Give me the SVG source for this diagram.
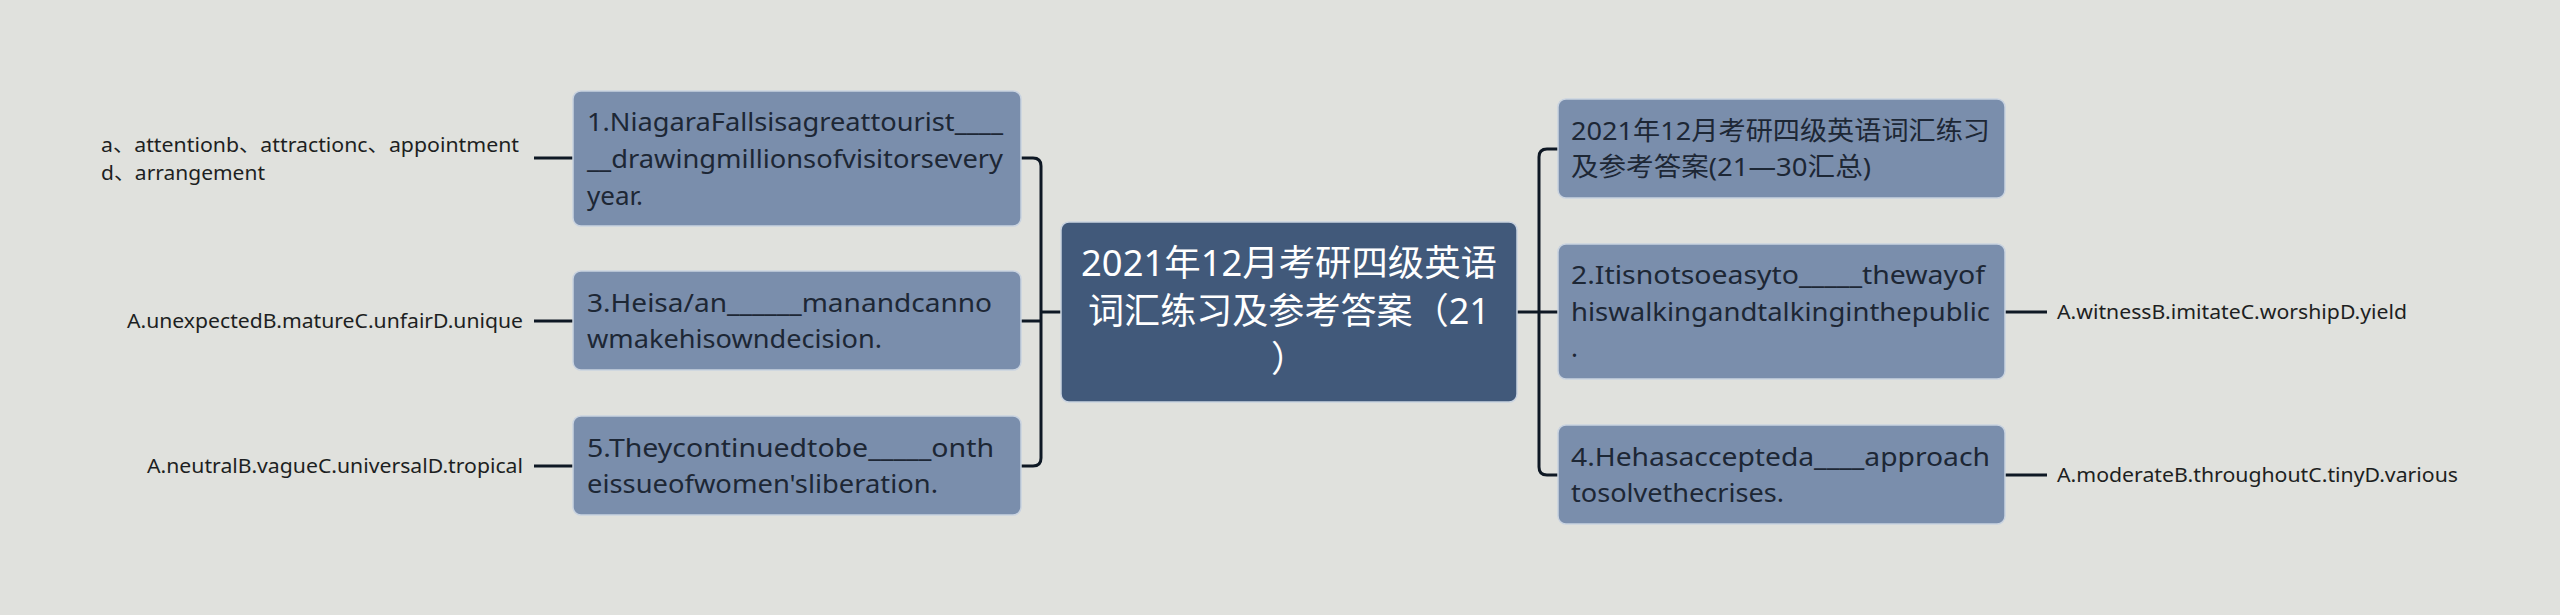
<svg xmlns="http://www.w3.org/2000/svg" width="2560" height="615" viewBox="0 0 2560 615">
<style>
.bg{fill:#e0e1dd}
.node rect{fill:#7a8eac;stroke:#c9d3e0;stroke-width:1.5}
.root rect{fill:#41597a;stroke:#c9d3e0;stroke-width:1.5}
.nt{font-family:"Noto Sans","Noto Sans CJK SC",sans-serif;font-size:26px;fill:#1d2735}
.rt{font-family:"Noto Sans","Noto Sans CJK SC",sans-serif;font-size:36px;fill:#ffffff;text-anchor:middle}
.lt{font-family:"Noto Sans","Noto Sans CJK SC",sans-serif;font-size:20px;fill:#1d1f22}
.lr{text-anchor:end}
.conn path{fill:none;stroke:#0e1824;stroke-width:3}
</style>
<rect class="bg" x="0" y="0" width="2560" height="615"/>
<g class="conn" id="connectors">
<path d="M1061 312 H1041"/>
<path d="M1021 158 H1033 Q1041 158 1041 166 V458 Q1041 466 1033 466 H1021"/>
<path d="M1021 321 H1041"/>
<path d="M1517 312 H1558"/>
<path d="M1558 149 H1547 Q1539 149 1539 157 V467 Q1539 475 1547 475 H1558"/>
<path d="M573 158 H534"/>
<path d="M573 321 H534"/>
<path d="M573 466 H534"/>
<path d="M2005 312 H2047"/>
<path d="M2005 475 H2047"/>
</g>
<g id="root" class="root">
<rect x="1061" y="222" width="456" height="180" rx="8"/>
<text class="rt" x="1289" y="276" textLength="416" lengthAdjust="spacingAndGlyphs">2021年12月考研四级英语</text>
<text class="rt" x="1289" y="324" textLength="402" lengthAdjust="spacingAndGlyphs">词汇练习及参考答案（21</text>
<text class="rt" x="1289" y="372">）</text>
</g>
<g id="n1" class="node">
<rect x="573" y="91" width="448" height="135" rx="8"/>
<text class="nt" x="587" y="131" textLength="416" lengthAdjust="spacingAndGlyphs">1.NiagaraFallsisagreattourist____</text>
<text class="nt" x="587" y="168" textLength="416" lengthAdjust="spacingAndGlyphs">__drawingmillionsofvisitorsevery</text>
<text class="nt" x="587" y="205">year.</text>
</g>
<g id="n3" class="node">
<rect x="573" y="271" width="448" height="99" rx="8"/>
<text class="nt" x="587" y="312" textLength="405" lengthAdjust="spacingAndGlyphs">3.Heisa/an______manandcanno</text>
<text class="nt" x="587" y="348" textLength="295" lengthAdjust="spacingAndGlyphs">wmakehisowndecision.</text>
</g>
<g id="n5" class="node">
<rect x="573" y="416" width="448" height="99" rx="8"/>
<text class="nt" x="587" y="457" textLength="407" lengthAdjust="spacingAndGlyphs">5.Theycontinuedtobe_____onth</text>
<text class="nt" x="587" y="493" textLength="351" lengthAdjust="spacingAndGlyphs">eissueofwomen'sliberation.</text>
</g>
<g id="n0" class="node">
<rect x="1558" y="99" width="447" height="99" rx="8"/>
<text class="nt" x="1571" y="140" textLength="419" lengthAdjust="spacingAndGlyphs">2021年12月考研四级英语词汇练习</text>
<text class="nt" x="1571" y="176" textLength="300" lengthAdjust="spacingAndGlyphs">及参考答案(21—30汇总)</text>
</g>
<g id="n2" class="node">
<rect x="1558" y="244" width="447" height="135" rx="8"/>
<text class="nt" x="1571" y="284" textLength="414" lengthAdjust="spacingAndGlyphs">2.Itisnotsoeasyto_____thewayof</text>
<text class="nt" x="1571" y="321" textLength="419" lengthAdjust="spacingAndGlyphs">hiswalkingandtalkinginthepublic</text>
<text class="nt" x="1571" y="357">.</text>
</g>
<g id="n4" class="node">
<rect x="1558" y="425" width="447" height="99" rx="8"/>
<text class="nt" x="1571" y="466" textLength="419" lengthAdjust="spacingAndGlyphs">4.Hehasaccepteda____approach</text>
<text class="nt" x="1571" y="502" textLength="213" lengthAdjust="spacingAndGlyphs">tosolvethecrises.</text>
</g>
<g id="l1">
<text class="lt" x="101" y="152" textLength="418" lengthAdjust="spacingAndGlyphs">a、attentionb、attractionc、appointment</text>
<text class="lt" x="101" y="180" textLength="164" lengthAdjust="spacingAndGlyphs">d、arrangement</text>
</g>
<g id="l3">
<text class="lt lr" x="523" y="328" textLength="396" lengthAdjust="spacingAndGlyphs">A.unexpectedB.matureC.unfairD.unique</text>
</g>
<g id="l5">
<text class="lt lr" x="523" y="473" textLength="376" lengthAdjust="spacingAndGlyphs">A.neutralB.vagueC.universalD.tropical</text>
</g>
<g id="l2">
<text class="lt" x="2057" y="319" textLength="350" lengthAdjust="spacingAndGlyphs">A.witnessB.imitateC.worshipD.yield</text>
</g>
<g id="l4">
<text class="lt" x="2057" y="482" textLength="401" lengthAdjust="spacingAndGlyphs">A.moderateB.throughoutC.tinyD.various</text>
</g>
</svg>
